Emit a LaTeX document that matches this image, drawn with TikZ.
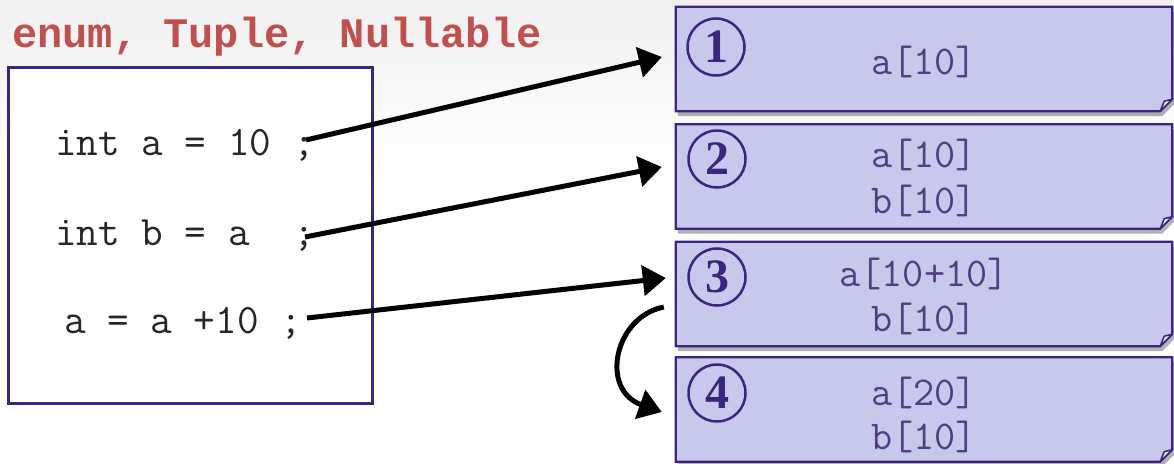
\documentclass[tikz,border=0pt]{standalone}
\usepackage{fontspec}
\setmainfont{Liberation Serif}
\setmonofont{Liberation Mono}
\newfontfamily\courierlike{Latin Modern Mono}
\usetikzlibrary{arrows.meta,shadows}
\definecolor{purp}{RGB}{60,38,125}
\definecolor{notefill}{RGB}{200,200,236}
\definecolor{notetext}{RGB}{78,64,130}
\definecolor{titlered}{RGB}{192,80,77}
\tikzset{
 notebg/.style={rectangle, minimum width=496pt, minimum height=104pt, inner sep=0pt},
 noteshape/.style={draw=purp, line width=2.2pt, fill=notefill, line join=miter,
   drop shadow={shadow xshift=2pt, shadow yshift=-5pt, opacity=0.3, fill=black}},
 flapshape/.style={draw=purp, line width=1.5pt, fill=white!60!notefill, line join=round},
 numcirc/.style={circle, draw=purp, line width=2.5pt, minimum size=57pt, inner sep=0pt,
   text=purp, font=\fontsize{48}{48}\selectfont\bfseries},
 notetxt/.style={anchor=base, text=notetext, font=\fontsize{41}{41}\selectfont\courierlike, inner sep=0pt},
 codetxt/.style={anchor=base west, text=black!85, font=\fontsize{42}{42}\selectfont\courierlike, inner sep=0pt},
 bigarrow/.style={line width=5pt, -{Triangle[length=23pt,width=30pt]}},
 codebox/.style={draw=purp, line width=3pt, fill=white, minimum width=364pt, minimum height=336pt, inner sep=0pt},
 titletxt/.style={anchor=base west, inner sep=0pt, text=titlered, font=\fontsize{42}{42}\selectfont\ttfamily\bfseries},
}
\newcommand\notebox[2]{%
 \node[notebg] (#1) at (924,#2) {};
 \path[noteshape] (#1.north west) -- (#1.north east) -- ([yshift=12pt]#1.south east)
   -- ([xshift=-12pt]#1.south east) -- (#1.south west) -- cycle;
 \path[flapshape] ([xshift=-12pt]#1.south east) -- ([xshift=-8pt,yshift=10pt]#1.south east)
   -- ([yshift=12pt]#1.south east) -- cycle;
}
\begin{document}
\begin{tikzpicture}[x=1pt,y=-1pt]
\useasboundingbox (0,0) rectangle (1174,463);
\fill[white] (0,0) rectangle (1174,463);
\shade[top color=black!6, bottom color=white] (0,0) rectangle (1174,170);

\node[titletxt] (title) at (12,47) {enum, Tuple, Nullable};

\node[codebox] (code) at (190,235) {};
\node[codetxt] (l1) at (55,155) {int a = 10 ;};
\node[codetxt] (l2) at (55,245) {int b = a~~;};
\node[codetxt] (l3) at (64,333) {a = a +10 ;};

\notebox{b1}{59}
\notebox{b2}{176.5}
\notebox{b3}{294}
\notebox{b4}{409.5}

\node[numcirc] (n1) at (716,47) {1};
\node[numcirc] (n2) at (717,159) {2};
\node[numcirc] (n3) at (717,277) {3};
\node[numcirc] (n4) at (717,393) {4};

\node[notetxt] (t1a) at (924,74) {a[10]};
\node[notetxt] (t2a) at (924,167) {a[10]};
\node[notetxt] (t2b) at (924,213) {b[10]};
\node[notetxt] (t3a) at (924,286) {a[10+10]};
\node[notetxt] (t3b) at (924,331) {b[10]};
\node[notetxt] (t4a) at (924,405) {a[20]};
\node[notetxt] (t4b) at (924,449) {b[10]};

\coordinate (s1) at (306,140);
\coordinate (s2) at (305,237);
\coordinate (s3) at (307,318);
\draw[bigarrow] (s1) -- ([xshift=-14pt,yshift=2pt]b1.west);
\draw[bigarrow] (s2) -- ([xshift=-14pt,yshift=9.5pt]b2.west);
\draw[bigarrow] (s3) -- ([xshift=-10pt,yshift=16pt]b3.west);
\draw[bigarrow] ([xshift=-12pt,yshift=-13pt]b3.west) .. controls +(-50,10) and +(-62,-22) .. ([xshift=-14pt,yshift=-2.5pt]b4.west);
\end{tikzpicture}
\end{document}
